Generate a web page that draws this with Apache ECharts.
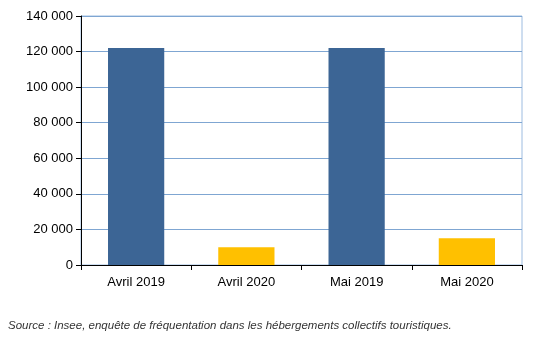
<!DOCTYPE html>
<html><head><meta charset="utf-8">
<script src="https://cdn.jsdelivr.net/npm/echarts@6/dist/echarts.min.js"></script>
<style>html,body{margin:0;padding:0;background:#fff}#c{width:545px;height:345px}</style>
</head><body><div id="c"></div>
<script>
const categories = ["Avril 2019", "Avril 2020", "Mai 2019", "Mai 2020"];
const values = [122000, 10000, 122000, 15000];
const barColors = ["#3C6595", "#FFC000", "#3C6595", "#FFC000"];
const yTicks = [0, 20000, 40000, 60000, 80000, 100000, 120000, 140000];
const sourceText = "Source : Insee, enquête de fréquentation dans les hébergements collectifs touristiques.";

const fmt = v => String(v).replace(/\B(?=(\d{3})+(?!\d))/g, "\u00a0");
const chart = echarts.init(document.getElementById('c'));
chart.setOption({
  animation: false,
  textStyle: { fontFamily: "Liberation Sans, Arial, sans-serif" },
  grid: { left: 81, right: 23, top: 16, bottom: 80, show: true, borderColor: "#9DBCE0", borderWidth: 1, backgroundColor: "transparent" },
  xAxis: {
    type: "category", data: categories,
    axisLine: { lineStyle: { color: "#000", width: 1 } },
    axisTick: { show: true, alignWithLabel: false, length: 5, lineStyle: { color: "#000" } },
    axisLabel: { color: "#000", fontSize: 13, margin: 11 }
  },
  yAxis: {
    type: "value", min: yTicks[0], max: yTicks[yTicks.length - 1], interval: 20000,
    axisLine: { show: true, lineStyle: { color: "#000", width: 1 } },
    axisTick: { show: true, length: 5, lineStyle: { color: "#000" } },
    axisLabel: { color: "#000", fontSize: 13, margin: 8, formatter: fmt },
    splitLine: { lineStyle: { color: "#7FA6D2", width: 1 } }
  },
  series: [{
    type: "bar",
    data: values.map((v, i) => ({ value: v, itemStyle: { color: barColors[i] } })),
    barWidth: "51%"
  }],
  graphic: [{
    type: "text", left: 8, top: 320,
    style: { text: sourceText, fill: "#333", font: "italic 11.5px 'Liberation Sans', Arial, sans-serif" }
  }]
});
</script></body></html>
